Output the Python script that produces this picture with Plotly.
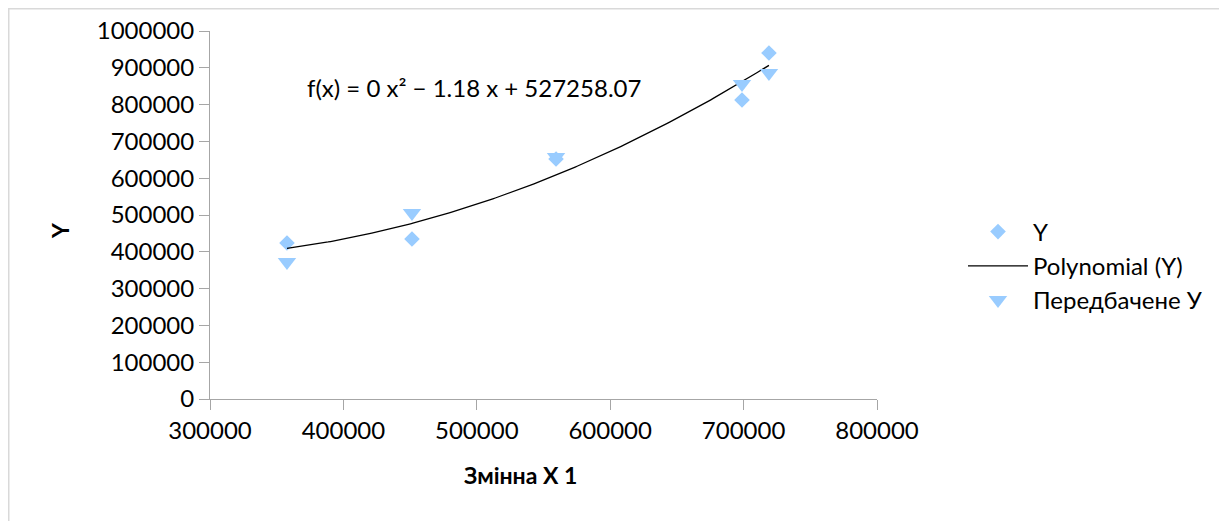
import numpy as np
import plotly.graph_objects as go

x_vals = [357700, 451400, 559400, 698800, 719000]
y_actual = [423900, 434800, 652200, 812500, 940200]
y_pred = [372000, 505400, 657600, 856000, 886000]

x_ticks = [300000, 400000, 500000, 600000, 700000, 800000]
y_ticks = [0, 100000, 200000, 300000, 400000, 500000, 600000, 700000, 800000, 900000, 1000000]

# polynomial (order 2) trendline fitted to Y
coef = np.polyfit(x_vals, y_actual, 2)
xt = np.linspace(min(x_vals), max(x_vals), 200)
yt = np.polyval(coef, xt)

FONT = "Lato"
BLUE = "#99CCFF"
FS = 24

# plot area in page pixels: x 210..877, y 31..399 (page has 8px body margin)
def px(pagex):
    return (pagex - 210) / 667

def py(pagey):
    return (399 - pagey) / 368

fig = go.Figure()
fig.add_trace(go.Scatter(x=x_vals, y=y_actual, mode="markers", name="Y",
                         marker=dict(symbol="diamond", size=12, color=BLUE)))
fig.add_trace(go.Scatter(x=xt, y=yt, mode="lines", name="Polynomial (Y)",
                         line=dict(color="black", width=1.3)))
fig.add_trace(go.Scatter(x=x_vals, y=y_pred, mode="markers", name="Передбачене У",
                         marker=dict(symbol="triangle-down", size=16, color=BLUE)))

fig.update_layout(
    width=1219, height=513,
    margin=dict(l=202, r=350, t=23, b=122, autoexpand=False),
    paper_bgcolor="white", plot_bgcolor="white",
    font=dict(family=FONT, size=FS, color="black"),
    showlegend=True,
    legend=dict(x=px(963), y=py(266), xanchor="left", yanchor="middle",
                font=dict(family=FONT, size=FS), bgcolor="rgba(0,0,0,0)",
                itemwidth=60, tracegroupgap=0),
    xaxis=dict(range=[300000, 800000], tickvals=x_ticks,
               ticktext=[str(v) for v in x_ticks], automargin=False,
               showgrid=False, zeroline=False, showline=True,
               linecolor="#A6A6A6", linewidth=1, ticks="outside",
               tickcolor="#A6A6A6", ticklen=10, tickfont=dict(size=FS)),
    yaxis=dict(range=[0, 1000000], tickvals=y_ticks,
               ticktext=[str(v) for v in y_ticks], automargin=False,
               showgrid=False, zeroline=False, showline=True,
               linecolor="#A6A6A6", linewidth=1, ticks="outside",
               tickcolor="#A6A6A6", ticklen=10, tickfont=dict(size=FS)),
    shapes=[dict(type="rect", xref="paper", yref="paper",
                 x0=px(8.5), x1=px(1222), y0=py(600), y1=py(8.5),
                 line=dict(color="#D9D9D9", width=2))],
    annotations=[
        dict(text="f(x) = 0 x² − 1.18 x + 527258.07", xref="paper", yref="paper",
             x=px(305), y=py(87), xanchor="left", yanchor="middle", showarrow=False,
             font=dict(size=FS)),
        dict(text="<b>Змінна X 1</b>", xref="paper", yref="paper",
             x=px(520), y=py(475), xanchor="center", yanchor="middle",
             showarrow=False, font=dict(size=23)),
        dict(text="<b>Y</b>", xref="paper", yref="paper", textangle=-90,
             x=px(60), y=py(231), xanchor="center", yanchor="middle",
             showarrow=False, font=dict(size=23)),
    ],
)

fig.write_html("out.html")
